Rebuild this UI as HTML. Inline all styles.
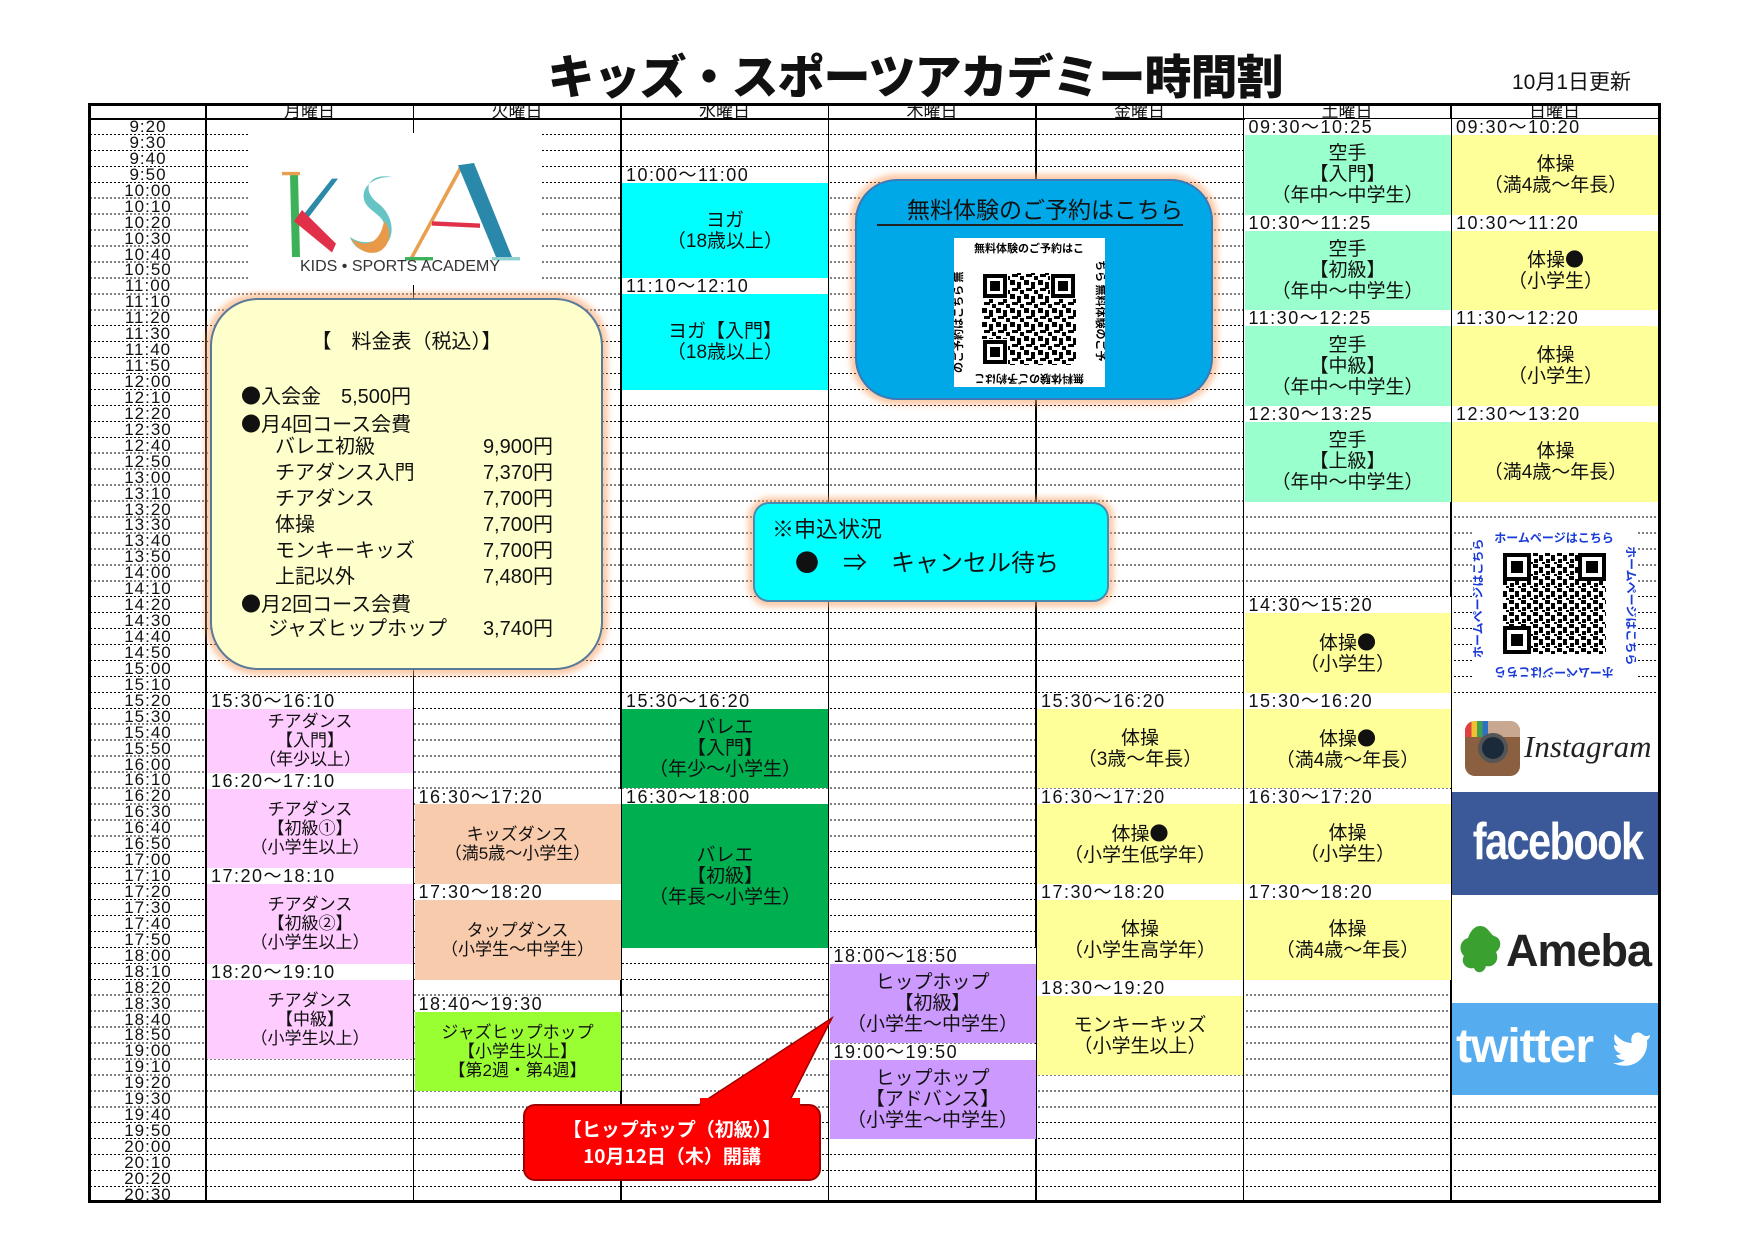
<!DOCTYPE html>
<html><head><meta charset="utf-8">
<style>
*{margin:0;padding:0;box-sizing:border-box}
body{width:1754px;height:1240px;background:#fff;position:relative;overflow:hidden;font-family:"Liberation Sans","Noto Sans CJK JP",sans-serif;color:#111}
.a{position:absolute}
.k{font-family:"Noto Sans CJK JP",sans-serif}
.title{left:500px;top:44px;width:830px;text-align:center;font-size:47px;font-weight:900;line-height:60px;font-family:"Noto Sans CJK JP",sans-serif;letter-spacing:-1px}
.upd{left:1512px;top:70px;font-size:21px;line-height:26px}
.frame{left:88px;top:103px;width:1573px;height:1100px;border:3px solid #000}
.dots{left:90px;top:119px;width:1569px;height:1084px;background:repeating-linear-gradient(to bottom,transparent 0,transparent 14.94px,#000 14.94px,#000 15.94px);-webkit-mask-image:repeating-linear-gradient(to right,#000 0,#000 2px,transparent 2px,transparent 4px);mask-image:repeating-linear-gradient(to right,#000 0,#000 2px,transparent 2px,transparent 4px)}
.vl{top:103px;width:1.5px;height:1100px;background:#000}
.hl{left:88px;top:118px;width:1573px;height:2px;background:#000}
.hd{top:104px;height:15px;width:207px;text-align:center;font-size:17px;line-height:15px;overflow:hidden}
.tc{left:90px;top:119px;width:116px}
.tc div{height:15.94px;text-align:center;font-size:17px;line-height:16px;letter-spacing:1px}
.b{position:absolute;display:flex;flex-direction:column;justify-content:center;align-items:center;text-align:center;font-size:19px;line-height:21px;width:206px}
.s{font-size:17px;line-height:19px}
.lb{position:absolute;height:16px;font-size:18px;line-height:17px;letter-spacing:1.5px;white-space:nowrap;padding-left:4px;background:#fff;width:206px}
.pk{background:#ffccff}.pe{background:#f8cbad}.li{background:#99ff33}.cy{background:#00ffff}.dg{background:#00b050}.pu{background:#cc99ff}.ye{background:#ffff99}.mi{background:#99ffcc}
</style></head><body>
<div class="a title">キッズ・スポーツアカデミー時間割</div>
<div class="a upd">10月1日更新</div>

<div class="a dots"></div>
<div class="a hl"></div>
<div class="a vl" style="left:205px"></div>
<div class="a vl" style="left:412.5px"></div>
<div class="a vl" style="left:620px"></div>
<div class="a vl" style="left:827.5px"></div>
<div class="a vl" style="left:1035px"></div>
<div class="a vl" style="left:1242.5px"></div>
<div class="a vl" style="left:1450px"></div>

<div class="a hd" style="left:206px">月曜日</div>
<div class="a hd" style="left:413.5px">火曜日</div>
<div class="a hd" style="left:621px">水曜日</div>
<div class="a hd" style="left:828.5px">木曜日</div>
<div class="a hd" style="left:1036px">金曜日</div>
<div class="a hd" style="left:1243.5px">土曜日</div>
<div class="a hd" style="left:1451px">日曜日</div>

<div class="a tc">
<div>9:20</div><div>9:30</div><div>9:40</div><div>9:50</div>
<div>10:00</div><div>10:10</div><div>10:20</div><div>10:30</div><div>10:40</div><div>10:50</div>
<div>11:00</div><div>11:10</div><div>11:20</div><div>11:30</div><div>11:40</div><div>11:50</div>
<div>12:00</div><div>12:10</div><div>12:20</div><div>12:30</div><div>12:40</div><div>12:50</div>
<div>13:00</div><div>13:10</div><div>13:20</div><div>13:30</div><div>13:40</div><div>13:50</div>
<div>14:00</div><div>14:10</div><div>14:20</div><div>14:30</div><div>14:40</div><div>14:50</div>
<div>15:00</div><div>15:10</div><div>15:20</div><div>15:30</div><div>15:40</div><div>15:50</div>
<div>16:00</div><div>16:10</div><div>16:20</div><div>16:30</div><div>16:40</div><div>16:50</div>
<div>17:00</div><div>17:10</div><div>17:20</div><div>17:30</div><div>17:40</div><div>17:50</div>
<div>18:00</div><div>18:10</div><div>18:20</div><div>18:30</div><div>18:40</div><div>18:50</div>
<div>19:00</div><div>19:10</div><div>19:20</div><div>19:30</div><div>19:40</div><div>19:50</div>
<div>20:00</div><div>20:10</div><div>20:20</div><div>20:30</div>
</div>

<!-- Monday -->
<div class="lb" style="left:207px;top:692.8px">15:30～16:10</div>
<div class="b s pk" style="left:207px;top:708.8px;height:63.8px">チアダンス<br>【入門】<br>（年少以上）</div>
<div class="lb" style="left:207px;top:772.5px">16:20～17:10</div>
<div class="b s pk" style="left:207px;top:788.5px;height:79.7px">チアダンス<br>【初級①】<br>（小学生以上）</div>
<div class="lb" style="left:207px;top:868.2px">17:20～18:10</div>
<div class="b s pk" style="left:207px;top:884.1px;height:79.7px">チアダンス<br>【初級②】<br>（小学生以上）</div>
<div class="lb" style="left:207px;top:963.8px">18:20～19:10</div>
<div class="b s pk" style="left:207px;top:979.8px;height:79.7px">チアダンス<br>【中級】<br>（小学生以上）</div>

<!-- Tuesday -->
<div class="lb" style="left:414.5px;top:788.5px">16:30～17:20</div>
<div class="b s pe" style="left:414.5px;top:804.4px;height:79.7px">キッズダンス<br>（満5歳～小学生）</div>
<div class="lb" style="left:414.5px;top:884.1px">17:30～18:20</div>
<div class="b s pe" style="left:414.5px;top:900.1px;height:79.7px">タップダンス<br>（小学生～中学生）</div>
<div class="lb" style="left:414.5px;top:995.7px">18:40～19:30</div>
<div class="b s li" style="left:414.5px;top:1011.6px;height:79.7px">ジャズヒップホップ<br>【小学生以上】<br>【第2週・第4週】</div>

<!-- Wednesday -->
<div class="lb" style="left:622px;top:166.8px">10:00～11:00</div>
<div class="b cy" style="left:622px;top:182.8px;height:95.6px">ヨガ<br>（18歳以上）</div>
<div class="lb" style="left:622px;top:278.4px">11:10～12:10</div>
<div class="b cy" style="left:622px;top:294.3px;height:95.6px">ヨガ【入門】<br>（18歳以上）</div>
<div class="lb" style="left:622px;top:692.8px">15:30～16:20</div>
<div class="b dg" style="left:622px;top:708.8px;height:79.7px">バレエ<br>【入門】<br>（年少～小学生）</div>
<div class="lb" style="left:622px;top:788.5px">16:30～18:00</div>
<div class="b dg" style="left:622px;top:804.4px;height:143.5px">バレエ<br>【初級】<br>（年長～小学生）</div>

<!-- Thursday -->
<div class="lb" style="left:829.5px;top:947.9px">18:00～18:50</div>
<div class="b pu" style="left:829.5px;top:963.8px;height:79.7px">ヒップホップ<br>【初級】<br>（小学生～中学生）</div>
<div class="lb" style="left:829.5px;top:1043.5px">19:00～19:50</div>
<div class="b pu" style="left:829.5px;top:1059.5px;height:79.7px">ヒップホップ<br>【アドバンス】<br>（小学生～中学生）</div>

<!-- Friday -->
<div class="lb" style="left:1037px;top:692.8px">15:30～16:20</div>
<div class="b ye" style="left:1037px;top:708.8px;height:79.7px">体操<br>（3歳～年長）</div>
<div class="lb" style="left:1037px;top:788.5px">16:30～17:20</div>
<div class="b ye" style="left:1037px;top:804.4px;height:79.7px"><div>体操<span class="k">●</span><br>（小学生低学年）</div></div>
<div class="lb" style="left:1037px;top:884.1px">17:30～18:20</div>
<div class="b ye" style="left:1037px;top:900.1px;height:79.7px">体操<br>（小学生高学年）</div>
<div class="lb" style="left:1037px;top:979.8px">18:30～19:20</div>
<div class="b ye" style="left:1037px;top:995.7px;height:79.7px">モンキーキッズ<br>（小学生以上）</div>

<!-- Saturday -->
<div class="lb" style="left:1244.5px;top:119px">09:30～10:25</div>
<div class="b mi" style="left:1244.5px;top:134.9px;height:79.7px">空手<br>【入門】<br>（年中～中学生）</div>
<div class="lb" style="left:1244.5px;top:214.6px">10:30～11:25</div>
<div class="b mi" style="left:1244.5px;top:230.6px;height:79.7px">空手<br>【初級】<br>（年中～中学生）</div>
<div class="lb" style="left:1244.5px;top:310.3px">11:30～12:25</div>
<div class="b mi" style="left:1244.5px;top:326.2px;height:79.7px">空手<br>【中級】<br>（年中～中学生）</div>
<div class="lb" style="left:1244.5px;top:405.9px">12:30～13:25</div>
<div class="b mi" style="left:1244.5px;top:421.9px;height:79.7px">空手<br>【上級】<br>（年中～中学生）</div>
<div class="lb" style="left:1244.5px;top:597.2px">14:30～15:20</div>
<div class="b ye" style="left:1244.5px;top:613.1px;height:79.7px"><div>体操<span class="k">●</span><br>（小学生）</div></div>
<div class="lb" style="left:1244.5px;top:692.8px">15:30～16:20</div>
<div class="b ye" style="left:1244.5px;top:708.8px;height:79.7px"><div>体操<span class="k">●</span><br>（満4歳～年長）</div></div>
<div class="lb" style="left:1244.5px;top:788.5px">16:30～17:20</div>
<div class="b ye" style="left:1244.5px;top:804.4px;height:79.7px">体操<br>（小学生）</div>
<div class="lb" style="left:1244.5px;top:884.1px">17:30～18:20</div>
<div class="b ye" style="left:1244.5px;top:900.1px;height:79.7px">体操<br>（満4歳～年長）</div>

<!-- Sunday -->
<div class="lb" style="left:1452px;top:119px">09:30～10:20</div>
<div class="b ye" style="left:1452px;top:134.9px;height:79.7px;width:207px">体操<br>（満4歳～年長）</div>
<div class="lb" style="left:1452px;top:214.6px">10:30～11:20</div>
<div class="b ye" style="left:1452px;top:230.6px;height:79.7px;width:207px"><div>体操<span class="k">●</span><br>（小学生）</div></div>
<div class="lb" style="left:1452px;top:310.3px">11:30～12:20</div>
<div class="b ye" style="left:1452px;top:326.2px;height:79.7px;width:207px">体操<br>（小学生）</div>
<div class="lb" style="left:1452px;top:405.9px">12:30～13:20</div>
<div class="b ye" style="left:1452px;top:421.9px;height:79.7px;width:207px">体操<br>（満4歳～年長）</div>

<!-- logo -->
<div class="a" style="left:248px;top:133px;width:292px;height:152px;background:#fff"></div>
<svg class="a" style="left:280px;top:150px" width="240" height="125" viewBox="0 0 240 125">
<g transform="translate(0,4) scale(1,1.12)">
<polygon points="10,18 18,18 20,92 12,92" fill="#3cb15a"/>
<polygon points="2,16 20,16 20,19 2,19" fill="#e8a050"/>
<polygon points="20,58 52,22 58,22 24,62" fill="#2a8aa8"/>
<polygon points="14,60 22,50 56,80 52,88" fill="#e0304a"/>
<path d="M118,22 C92,14 78,30 98,44 C115,55 118,80 96,86 C80,90 72,80 70,74 C82,82 100,80 104,68 C108,52 80,52 84,34 C88,22 108,18 118,22 Z" fill="#66c4c4"/>
<path d="M104,60 C112,66 112,84 96,88 C84,90 74,82 72,76 C86,84 100,80 104,60 Z" fill="#e89a48"/>
<polygon points="130,92 180,10 183,12 134,92" fill="#e8a050"/>
<polygon points="178,10 194,8 232,92 216,92" fill="#2a88aa"/>
<polygon points="152,60 200,62 200,66 152,64" fill="#e0304a"/>
<rect x="125" y="92" width="28" height="3" fill="#3cb15a"/>
<rect x="212" y="92" width="28" height="3" fill="#8ed0d0"/>
</g>
<text x="120" y="121" text-anchor="middle" font-family="Liberation Sans,sans-serif" font-size="16" fill="#333">KIDS • SPORTS ACADEMY</text>
</svg>

<!-- price box -->
<div class="a" style="left:210px;top:298px;width:393px;height:372px;background:#ffffcc;border:2px solid #5a7a9a;border-radius:48px;box-shadow:0 0 6px 5px rgba(250,160,100,.55)"></div>
<div class="a" style="left:210px;top:330px;width:393px;text-align:center;font-size:20px;line-height:24px">【　料金表（税込）】</div>
<div class="a" style="left:241px;top:382px;font-size:20px;line-height:26px;white-space:pre"><span class="k">●</span>入会金　5,500円
<span class="k">●</span>月4回コース会費</div>
<div class="a" style="left:275px;top:434px;font-size:20px;line-height:26px;white-space:pre">バレエ初級
チアダンス入門
チアダンス
体操
モンキーキッズ
上記以外</div>
<div class="a" style="left:440px;top:434px;width:113px;text-align:right;font-size:20px;line-height:26px;white-space:pre">9,900円
7,370円
7,700円
7,700円
7,700円
7,480円</div>
<div class="a" style="left:241px;top:590px;font-size:20px;line-height:26px;white-space:pre"><span class="k">●</span>月2回コース会費</div>
<div class="a" style="left:268px;top:616px;font-size:20px;line-height:26px;white-space:pre">ジャズヒップホップ</div>
<div class="a" style="left:468px;top:616px;width:85px;text-align:right;font-size:20px;line-height:26px">3,740円</div>

<!-- blue box -->
<div class="a" style="left:855px;top:179px;width:358px;height:221px;background:#00a8e8;border:2px solid #3a7ab8;border-radius:42px;box-shadow:0 0 6px 5px rgba(250,160,100,.55)"></div>
<div class="a" style="left:877px;top:196px;width:306px;text-align:right;font-size:23px;line-height:28px;border-bottom:2px solid #222">無料体験のご予約はこちら</div>
<svg class="a" style="left:954px;top:238px" width="151" height="149" viewBox="0 0 151 149">
<defs><pattern id="qp" width="14" height="14" patternUnits="userSpaceOnUse">
<rect x="0" y="0" width="5" height="5" fill="#000"/><rect x="7" y="2" width="4" height="7" fill="#000"/><rect x="2" y="8" width="6" height="3" fill="#000"/><rect x="10" y="10" width="4" height="4" fill="#000"/></pattern></defs>
<rect width="151" height="149" fill="#fff"/>
<text x="75" y="14" text-anchor="middle" font-size="11" font-weight="bold" font-family="Noto Sans CJK JP,sans-serif">無料体験のご予約はこ</text>
<text x="75" y="145" text-anchor="middle" font-size="11" font-weight="bold" font-family="Noto Sans CJK JP,sans-serif" transform="rotate(180 75 141)">無料体験のご予約はこ</text>
<text x="0" y="0" font-size="11" font-weight="bold" font-family="Noto Sans CJK JP,sans-serif" transform="translate(8,135) rotate(-90)">のご予約はこちら 無</text>
<text x="0" y="0" font-size="11" font-weight="bold" font-family="Noto Sans CJK JP,sans-serif" transform="translate(143,22) rotate(90)">ちら 無料体験のご予</text>
<rect x="28" y="35" width="94" height="92" fill="url(#qp)"/>
<rect x="28" y="35" width="26" height="26" fill="#fff"/><rect x="29" y="36" width="24" height="24" fill="#000"/><rect x="33" y="40" width="16" height="16" fill="#fff"/><rect x="36" y="43" width="10" height="10" fill="#000"/>
<rect x="96" y="35" width="26" height="26" fill="#fff"/><rect x="97" y="36" width="24" height="24" fill="#000"/><rect x="101" y="40" width="16" height="16" fill="#fff"/><rect x="104" y="43" width="10" height="10" fill="#000"/>
<rect x="28" y="101" width="26" height="26" fill="#fff"/><rect x="29" y="102" width="24" height="24" fill="#000"/><rect x="33" y="106" width="16" height="16" fill="#fff"/><rect x="36" y="109" width="10" height="10" fill="#000"/>
</svg>

<!-- notice -->
<div class="a" style="left:753px;top:502px;width:356px;height:100px;background:#00ffff;border:2px solid #4a8ab0;border-radius:16px;box-shadow:0 0 6px 5px rgba(250,160,100,.55)"></div>
<div class="a" style="left:772px;top:516px;font-size:22px;line-height:28px">※申込状況</div>
<div class="a" style="left:795px;top:546px;font-size:24px;line-height:30px;white-space:pre"><span class="k">●</span>　⇒　キャンセル待ち</div>

<!-- callout -->
<svg class="a" style="left:680px;top:1010px" width="160" height="110"><polygon points="17,96 107,96 152,8" fill="#ff0000" stroke="#a00000" stroke-width="1.5"/></svg>
<div class="a" style="left:523px;top:1104px;width:298px;height:77px;background:#ff0000;border:2px solid #a00000;border-radius:12px;color:#fff;font-weight:bold;text-align:center;font-size:19px;line-height:27px;padding-top:9px;font-family:'Noto Sans CJK JP',sans-serif">【ヒップホップ（初級）】<br>10月12日（木）開講</div>
<div class="a" style="left:700px;top:1098px;width:100px;height:10px;background:#ff0000"></div>

<!-- homepage QR -->
<div class="a" style="left:1473px;top:528px;width:163px;height:152px;background:#fff"></div>
<svg class="a" style="left:1473px;top:528px" width="163" height="152" viewBox="0 0 163 152">
<defs><pattern id="qp2" width="12" height="12" patternUnits="userSpaceOnUse">
<rect x="0" y="0" width="5" height="4" fill="#000"/><rect x="6" y="3" width="4" height="6" fill="#000"/><rect x="1" y="7" width="4" height="4" fill="#000"/><rect x="9" y="10" width="3" height="2" fill="#000"/></pattern></defs>
<text x="81" y="14" text-anchor="middle" font-size="12" font-weight="bold" fill="#1a3ad8" font-family="Noto Sans CJK JP,sans-serif">ホームページはこちら</text>
<text x="81" y="0" text-anchor="middle" font-size="12" font-weight="bold" fill="#1a3ad8" font-family="Noto Sans CJK JP,sans-serif" transform="translate(0,140) rotate(180 81 0)">ホームページはこちら</text>
<text x="0" y="0" font-size="12" font-weight="bold" fill="#1a3ad8" font-family="Noto Sans CJK JP,sans-serif" transform="translate(9,130) rotate(-90)">ホームページはこちら</text>
<text x="0" y="0" font-size="12" font-weight="bold" fill="#1a3ad8" font-family="Noto Sans CJK JP,sans-serif" transform="translate(154,18) rotate(90)">ホームページはこちら</text>
<rect x="30" y="25" width="103" height="101" fill="url(#qp2)"/>
<rect x="30" y="25" width="28" height="28" fill="#000"/><rect x="34" y="29" width="20" height="20" fill="#fff"/><rect x="38" y="33" width="12" height="12" fill="#000"/>
<rect x="105" y="25" width="28" height="28" fill="#000"/><rect x="109" y="29" width="20" height="20" fill="#fff"/><rect x="113" y="33" width="12" height="12" fill="#000"/>
<rect x="30" y="98" width="28" height="28" fill="#000"/><rect x="34" y="102" width="20" height="20" fill="#fff"/><rect x="38" y="106" width="12" height="12" fill="#000"/>
</svg>

<!-- socials -->
<div class="a" style="left:1452px;top:706px;width:207px;height:88px;background:#fff"></div>
<div class="a" style="left:1465px;top:721px;width:55px;height:55px;border-radius:10px;background:#8a6040"></div>
<div class="a" style="left:1465px;top:721px;width:55px;height:16px;border-radius:10px 10px 0 0;background:linear-gradient(to right,#e04040 0 12%,#f0c030 12% 22%,#40a050 22% 32%,#3070c0 32% 42%,#c8a890 42%)"></div>
<div class="a" style="left:1478px;top:733px;width:30px;height:30px;border-radius:50%;background:#1a2a3a;border:4px solid #555"></div>
<div class="a" style="left:1524px;top:727px;font-family:'Liberation Serif',serif;font-style:italic;font-size:31px;line-height:40px;color:#222">Instagram</div>
<div class="a" style="left:1452px;top:792px;width:207px;height:103px;background:#3b5998"></div>
<div class="a" style="left:1452px;top:812px;width:207px;text-align:center;color:#fff;font-weight:bold;font-size:52px;line-height:60px;letter-spacing:-2px;transform:scaleX(.8)">facebook</div>
<div class="a" style="left:1452px;top:895px;width:207px;height:108px;background:#fff"></div>
<svg class="a" style="left:1456px;top:922px" width="48" height="56"><path d="M24,4 C32,4 34,12 38,14 C46,16 46,26 40,30 C44,38 38,46 30,44 C28,52 20,52 18,46 C10,48 4,40 8,34 C2,28 4,18 12,16 C14,10 18,4 24,4 Z" fill="#3aa030"/></svg>
<div class="a" style="left:1506px;top:925px;font-weight:bold;font-size:45px;line-height:52px;color:#222;letter-spacing:-1px">Ameba</div>
<div class="a" style="left:1452px;top:1003px;width:207px;height:92px;background:#55acee"></div>
<div class="a" style="left:1456px;top:1020px;color:#fff;font-weight:bold;font-size:48px;line-height:54px;letter-spacing:-1px">twitter</div>
<svg class="a" style="left:1612px;top:1030px" width="44" height="36"><path d="M38,5 C34,7 33,6 31,5 C28,1 22,2 20,6 C19,9 19,11 20,13 C13,13 7,9 3,4 C1,9 3,13 6,16 C4,16 3,15 2,15 C2,20 5,22 9,24 C7,25 5,25 4,25 C6,29 9,30 13,30 C9,33 5,33 1,33 C20,42 37,28 35,10 C37,9 38,7 38,5 Z" fill="#fff"/></svg>

<div class="a frame"></div>
</body></html>
